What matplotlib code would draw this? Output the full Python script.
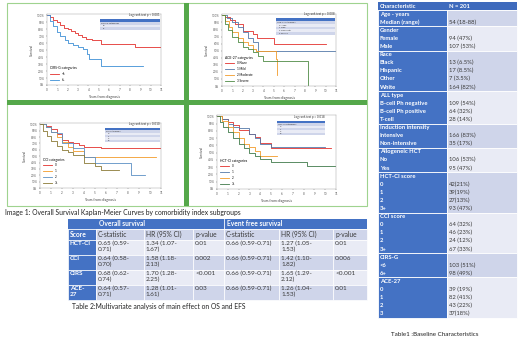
import numpy as np
import matplotlib
matplotlib.use("Agg")
import matplotlib.pyplot as plt
from matplotlib.patches import Rectangle

plt.rcParams['font.family'] = ['Lato', 'DejaVu Sans']

W, H = 520, 340

# ---- KM data (years, survival fraction) ----
cirs_labels = ["<6", "6+"]
cirs_t = [[0, 0.3, 0.6, 1, 1.3, 1.6, 2, 2.3, 2.7, 3, 3.4, 3.8, 4.3, 5.2, 8.5, 11],
          [0, 0.3, 0.6, 1, 1.3, 1.7, 2, 2.5, 3, 3.5, 3.9, 4.1, 5.2, 9.3]]
cirs_s = [[1, .97, .94, .90, .86, .82, .80, .77, .74, .72, .69, .66, .64, .59, .54, .54],
          [1, .92, .85, .76, .70, .65, .60, .57, .54, .52, .45, .38, .28, .28]]

ace_labels = ["0 None", "1 Mild", "2 Moderate", "3 Severe"]
ace_t = [[0, 0.3, 0.8, 1.3, 2, 2.5, 3, 3.4, 4, 5, 10],
         [0, 0.5, 1, 1.5, 2, 2.5, 3, 3.5, 11],
         [0, 0.3, 0.7, 1, 1.5, 2, 2.5, 3, 3.3, 5.2, 5.3],
         [0, 0.3, 0.6, 1, 1.5, 2, 2.5, 3, 3.5, 4, 8.3]]
ace_s = [[1, .98, .93, .88, .78, .78, .74, .68, .68, .60, .60],
         [1, .96, .90, .84, .76, .68, .62, .50, .50],
         [1, .92, .84, .76, .68, .62, .58, .52, .50, .38, .15],
         [1, .88, .80, .70, .62, .55, .52, .48, .42, .35, 0]]

cci_labels = ["0", "1", "2", "3+"]
cci_t = [[0, 0.5, 1, 1.5, 2, 2.5, 3, 3.5, 4, 5.5, 11],
         [0, 0.5, 1, 1.5, 2, 2.5, 3, 4, 10.5],
         [0, 0.5, 1, 1.5, 2, 3, 4, 5, 8.3, 9.5],
         [0, 0.3, 0.6, 1, 1.5, 2, 2.5, 3, 4, 5, 5.5, 7.2]]
cci_s = [[1, .98, .92, .84, .76, .72, .70, .68, .65, .62, .62],
         [1, .95, .88, .80, .72, .65, .58, .48, .48],
         [1, .95, .88, .86, .70, .62, .48, .40, .20, .20],
         [1, .90, .82, .74, .66, .60, .56, .52, .40, .35, .28, .28]]

hct_labels = ["0", "1", "2", "3+"]
hct_t = [[0, 0.5, 1, 1.5, 2, 3, 3.5, 4, 5, 10.5],
         [0, 0.5, 1, 1.5, 2, 3, 3.5, 4, 5, 10],
         [0, 0.5, 1, 1.5, 2, 2.5, 3, 3.5, 4, 5.5],
         [0, 0.3, 0.6, 1, 1.5, 2, 2.5, 3, 3.5, 4, 5, 8.3, 11]]
hct_s = [[1, .97, .93, .88, .82, .76, .72, .64, .57, .57],
         [1, .96, .90, .86, .84, .76, .70, .62, .58, .58],
         [1, .94, .86, .78, .70, .62, .58, .52, .45, .45],
         [1, .92, .85, .78, .70, .62, .56, .50, .45, .42, .37, .32, .32]]

# ---- Table 2 ----
t2_scores = ["HCT-CI", "CCI", "CIRS", "ACE-\n27"]
os_c = ["0.65 (0.59-0.71)", "0.64 (0.58-0.70)", "0.68 (0.62-0.74)", "0.64 (0.57-0.71)"]
os_hr = ["1.34 (1.07-1.67)", "1.58 (1.18-2.13)", "1.70 (1.28-2.25)", "1.28 (1.01-1.61)"]
os_p = ["0.01", "0.002", "<0.001", "0.03"]
efs_c = ["0.66 (0.59-0.71)", "0.66 (0.59-0.71)", "0.66 (0.59-0.71)", "0.66 (0.59-0.71)"]
efs_hr = ["1.27 (1.05-1.53)", "1.42 (1.10-1.82)", "1.65 (1.29-2.12)", "1.26 (1.04-1.53)"]
efs_p = ["0.01", "0.006", "<0.001", "0.01"]

# ---- Table 1 ----
t1_groups = ["Age - years", "Gender", "Race", "ALL type", "Induction intensity",
             "Allogeneic HCT", "HCT-CI score", "CCI score", "CIRS-G", "ACE-27"]
t1_items = [["Median (range)"], ["Female", "Male"],
            ["Black", "Hispanic", "Other", "White"],
            ["B-cell Ph negative", "B-cell Ph positive", "T-cell"],
            ["Intensive", "Non-intensive"], ["No", "Yes"],
            ["0", "1", "2", "3+"], ["0", "1", "2", "3+"], ["<6", "6+"],
            ["0", "1", "2", "3"]]
t1_values = [["54 (18-88)"], ["94 (47%)", "107 (53%)"],
             ["13 (6.5%)", "17 (8.5%)", "7 (3.5%)", "164 (82%)"],
             ["109 (54%)", "64 (32%)", "28 (14%)"],
             ["166 (83%)", "35 (17%)"], ["106 (53%)", "95 (47%)"],
             ["42(21%)", "39(19%)", "27(13%)", "93 (47%)"],
             ["64 (32%)", "46 (23%)", "24 (12%)", "67 (33%)"],
             ["103 (51%)", "98 (49%)"],
             ["39 (19%)", "82 (41%)", "43 (22%)", "37(18%)"]]

BLUE = '#4472c4'
BAND1 = '#cfd5ea'
BAND2 = '#e9ebf5'
GREEN = '#55a84a'
TXT = '#3a3a3a'


def box(x0, y0, x1, y1):
    return [x0 / W, 1 - y1 / H, (x1 - x0) / W, (y1 - y0) / H]


fig = plt.figure(figsize=(W / 100, H / 100), dpi=100)
bg = fig.add_axes([0, 0, 1, 1], zorder=0)
bg.set_xlim(0, W)
bg.set_ylim(H, 0)
bg.axis('off')

# green frame of the image panel
bg.add_patch(Rectangle((7, 3), 360, 203, fc='white', ec='#9fd38f', lw=0.8))
bg.add_patch(Rectangle((184, 3), 5, 203, fc=GREEN, ec='none'))
bg.add_patch(Rectangle((7, 100), 360, 5, fc=GREEN, ec='none'))

top = fig.add_axes([0, 0, 1, 1], zorder=5)
top.set_xlim(0, W)
top.set_ylim(H, 0)
top.axis('off')
top.patch.set_alpha(0)


def km(rect, ts, ss, labels, colors, title, logrank, sbox):
    ax = fig.add_axes(box(*rect), zorder=2)
    for t, s, c, lab in zip(ts, ss, colors, labels):
        ax.step(t, s, where='post', color=c, lw=0.6, label=lab)
    ax.set_xlim(0, 11)
    ax.set_ylim(0, 1.02)
    ax.set_xticks(range(12))
    ax.set_yticks(np.arange(0, 1.01, 0.1))
    ax.set_yticklabels([f"{int(round(v * 100))}%" for v in np.arange(0, 1.01, 0.1)])
    ax.tick_params(labelsize=2.2, length=1, width=0.3, pad=1, colors='#555555')
    for sp in ax.spines.values():
        sp.set_linewidth(0.3)
        sp.set_color('#999999')
    ax.set_xlabel("Years from diagnosis", fontsize=2.5, labelpad=2, color='#444444')
    ax.set_ylabel("Survival", fontsize=2.5, labelpad=2, color='#444444')
    ax.legend(title=title, fontsize=2.2, title_fontsize=2.4, loc='lower left',
              frameon=False, handlelength=3, alignment='left',
              borderaxespad=0.6, labelspacing=0.6)
    # log rank text and summary box
    x0, y0, x1, y1 = sbox
    top.text(x1, y0 - 2, logrank, fontsize=2.2, ha='right', va='bottom', color='#333333')
    n = len(labels) + 2
    rh = (y1 - y0) / n
    top.add_patch(Rectangle((x0, y0), x1 - x0, rh, fc=BLUE, ec='none'))
    for i in range(1, n):
        top.add_patch(Rectangle((x0, y0 + i * rh), x1 - x0, rh,
                                fc=BAND1 if i % 2 else BAND2, ec='none'))
    top.text(x0 + 1, y0 + 1.5 * rh, title, fontsize=1.6, va='center', color='#333333')
    for i, lab in enumerate(labels):
        top.text(x0 + 3, y0 + (i + 2.5) * rh, lab, fontsize=1.6, va='center', color='#333333')
    return ax


km((47, 14, 161, 85), cirs_t, cirs_s, cirs_labels, ['#e3302c', '#3d8fd6'],
   "CIRS-G categories", "Log rank test p < 0.001", (100, 19, 160, 30))
km((222, 14, 336, 86), ace_t, ace_s, ace_labels,
   ['#e3302c', '#5479a8', '#f29b2a', '#4f8a45'],
   "ACE-27 categories", "Log rank test p = 0.008", (276, 18, 335, 35))
km((40, 123, 161, 188), cci_t, cci_s, cci_labels,
   ['#e3302c', '#f29b2a', '#5b8fc4', '#8a7a35'],
   "CCI categories", "Log rank test p = 0.010", (105, 128, 160, 142))
km((217, 115, 336, 189), hct_t, hct_s, hct_labels,
   ['#e3302c', '#5479a8', '#f29b2a', '#3f7a4a'],
   "HCT-CI categories", "Log rank test p = 0.018", (277, 121, 325, 135))

bg.text(5, 212, "Image 1: Overall Survival Kaplan-Meier Curves by comorbidity index subgroups",
        fontsize=4.9, va='center', color='#222222')

# ---- Table 2 ----
cols = [68, 96, 144, 193, 224, 279, 333, 367]
bg.add_patch(Rectangle((68, 219), 299, 10, fc=BLUE, ec='none'))
bg.text(99, 224, "Overall survival", fontsize=4.8, color='white', va='center', weight='bold')
bg.text(227, 224, "Event free survival", fontsize=4.8, color='white', va='center', weight='bold')
bg.plot([224, 224], [219, 229], color='white', lw=0.6)
heads = ["Score", "C-statistic", "HR (95% CI)", "p-value", "C-statistic", "HR (95% CI)", "p-value"]
rows_y = [229, 240, 255, 270, 285, 300]
for j, h in enumerate(heads):
    fc = BLUE if j == 0 else BAND1
    bg.add_patch(Rectangle((cols[j], 229), cols[j + 1] - cols[j], 11, fc=fc, ec='white', lw=0.5))
    bg.text(cols[j] + 2, 234.5, h, fontsize=4.8, va='center',
            color='white' if j == 0 else TXT, weight='bold' if j == 0 else 'normal')
for i in range(4):
    y0, y1 = rows_y[i + 1], rows_y[i + 2]
    cells = [t2_scores[i], os_c[i].replace("-", "-\n", 1), os_hr[i].replace("-", "-\n", 1),
             os_p[i], efs_c[i], efs_hr[i].replace("-", "-\n", 1), efs_p[i]]
    band = BAND2 if i % 2 == 0 else BAND1
    for j, c in enumerate(cells):
        fc = BLUE if j == 0 else band
        bg.add_patch(Rectangle((cols[j], y0), cols[j + 1] - cols[j], y1 - y0, fc=fc, ec='white', lw=0.5))
        bg.text(cols[j] + 2, y0 + 1.2, c, fontsize=4.6, va='top', linespacing=1.1,
                color='white' if j == 0 else TXT, weight='bold' if j == 0 else 'normal')
bg.text(72, 306, "Table 2:Multivariate analysis of main effect on OS and EFS",
        fontsize=4.9, va='center', color='#222222')

# ---- Table 1 ----
x0, xm, x1 = 378, 447, 517
rh = 8.1
fs1 = 4.2
y = 2.0
bg.add_patch(Rectangle((x0, y), x1 - x0, rh, fc='#3f6bbd', ec='none'))
bg.text(x0 + 2, y + rh / 2, "Characteristic", fontsize=fs1, color='white', va='center', weight='bold')
bg.text(xm + 2, y + rh / 2, "N = 201", fontsize=fs1, color='white', va='center', weight='bold')
y += rh
for g, (grp, items, vals) in enumerate(zip(t1_groups, t1_items, t1_values)):
    gh = rh * (len(items) + 1)
    bg.add_patch(Rectangle((x0, y), xm - x0, gh, fc=BLUE, ec='white', lw=0.6))
    bg.add_patch(Rectangle((xm, y), x1 - xm, gh, fc=BAND1 if g % 2 == 0 else BAND2,
                           ec='white', lw=0.6))
    bg.text(x0 + 2, y + rh / 2, grp, fontsize=fs1, color='white', va='center', weight='bold')
    for k, (it, v) in enumerate(zip(items, vals)):
        yy = y + rh * (k + 1.5)
        bg.text(x0 + 2, yy, it, fontsize=fs1, color='white', va='center', weight='bold')
        bg.text(xm + 2, yy, v, fontsize=fs1, color=TXT, va='center')
    y += gh
bg.text(435, 334, "Table1 :Baseline Characteristics", fontsize=4.5, ha='center',
        va='center', color='#222222')

fig.savefig("out.png", dpi=100)
